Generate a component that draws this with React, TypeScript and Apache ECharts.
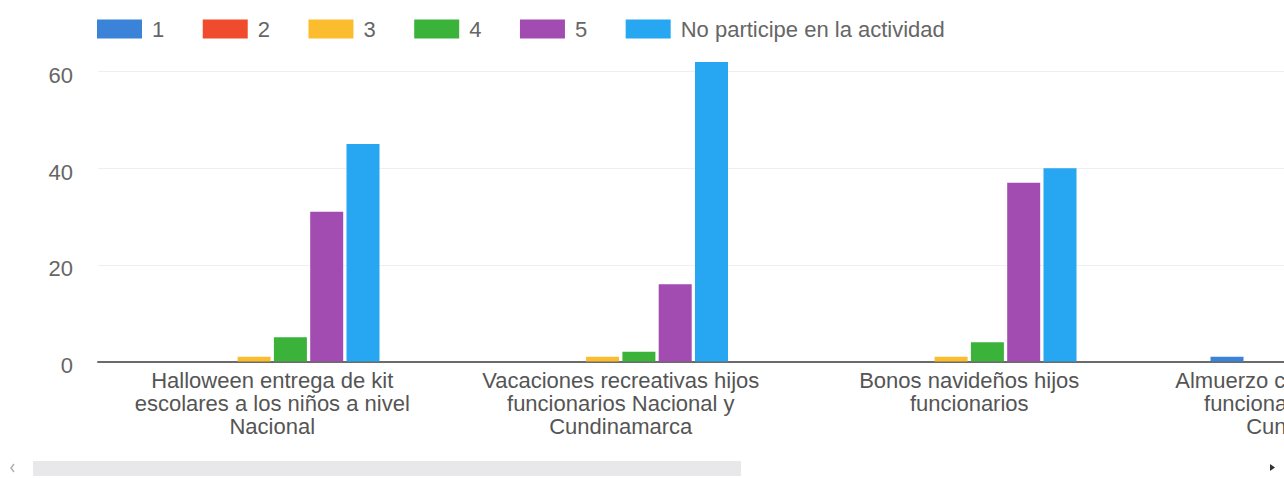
import React, { useEffect, useRef } from "react";
import * as echarts from "echarts";

const categories = [
  "Halloween entrega de kit\nescolares a los niños a nivel\nNacional",
  "Vacaciones recreativas hijos\nfuncionarios Nacional y\nCundinamarca",
  "Bonos navideños hijos\nfuncionarios",
  "Almuerzo con los hijos de los\nfuncionarios Nacional y\nCundinamarca",
];
const seriesNames = ["1", "2", "3", "4", "5", "No participe en la actividad"];
const values1 = [0, 0, 0, 1];
const values2 = [0, 0, 0, 0];
const values3 = [1, 1, 1, null];
const values4 = [5, 2, 4, null];
const values5 = [31, 16, 37, null];
const valuesNoParticipe = [45, 62, 40, null];
const gridTicks = [20, 40, 60];
const palette = ["#3b82d9", "#f04b2c", "#fbbd2e", "#3bb33b", "#a24bb0", "#27a6f1"];

const FONT = "'Liberation Sans', Arial, sans-serif";
const INNER_WIDTH = 1600;

export default function App() {
  const ref = useRef<HTMLDivElement>(null);
  useEffect(() => {
    if (!ref.current) return;
    const chart = echarts.init(ref.current, undefined, { renderer: "svg" });
    const allValues = [values1, values2, values3, values4, values5, valuesNoParticipe];
    const series: any[] = allValues.map((vals, i) => ({
      name: seriesNames[i],
      type: "bar",
      data: vals,
      barWidth: 33,
      barGap: "10%",
      itemStyle: { color: palette[i] },
      z: 3,
      ...(i === 0
        ? {
            markLine: {
              silent: true,
              symbol: ["none", "none"],
              label: { show: false },
              lineStyle: { color: "#efefef", width: 1, type: "solid" },
              emphasis: { disabled: true },
              data: gridTicks.map((v) => ({ yAxis: v })),
              z: 1,
            },
          }
        : {}),
    }));
    chart.setOption({
      animation: false,
      textStyle: { fontFamily: FONT },
      color: palette,
      legend: {
        data: seriesNames,
        left: 97,
        top: 18,
        padding: 0,
        icon: "rect",
        itemWidth: 45,
        itemHeight: 19,
        itemGap: 38.5,
        selectedMode: false,
        textStyle: {
          fontFamily: FONT,
          fontSize: 22,
          color: "#666",
          padding: [0, 0, 0, 5],
        },
      },
      grid: { left: 98, right: INNER_WIDTH - 1492, top: 47.5, bottom: 116.5, containLabel: false },
      xAxis: {
        type: "category",
        data: categories,
        axisTick: { show: false },
        axisLine: { show: true, lineStyle: { color: "#6b6b6b", width: 2 } },
        axisLabel: {
          interval: 0,
          margin: 7,
          fontFamily: FONT,
          fontSize: 22,
          lineHeight: 23,
          color: "#555",
          align: "center",
        },
        splitLine: { show: false },
      },
      yAxis: {
        type: "value",
        min: 0,
        max: 65,
        interval: 20,
        axisLine: { show: false },
        axisTick: { show: false },
        splitLine: { show: false },
        axisLabel: {
          showMaxLabel: false,
          margin: 25,
          verticalAlign: "top",
          lineHeight: 8,
          fontFamily: FONT,
          fontSize: 22,
          color: "#666",
        },
      },
      graphic: [
        {
          type: "rect",
          left: 33,
          top: 461,
          shape: { width: 708, height: 15 },
          style: { fill: "#e8e8eb" },
          silent: true,
        },
        {
          type: "polyline",
          shape: { points: [[14, 464], [11, 468], [14, 472]] },
          style: { stroke: "#b0b0b0", lineWidth: 1.5, fill: null },
          silent: true,
        },
        {
          type: "polygon",
          shape: { points: [[1270, 464], [1275, 467.5], [1270, 471]] },
          style: { fill: "#333" },
          silent: true,
        },
      ],
      series,
    });
    return () => chart.dispose();
  }, []);
  return (
    <div
      style={{
        position: "fixed",
        left: 0,
        top: 0,
        width: 1284,
        height: 478,
        overflow: "hidden",
        background: "#fff",
      }}
    >
      <div ref={ref} style={{ width: INNER_WIDTH, height: 478 }} />
    </div>
  );
}
